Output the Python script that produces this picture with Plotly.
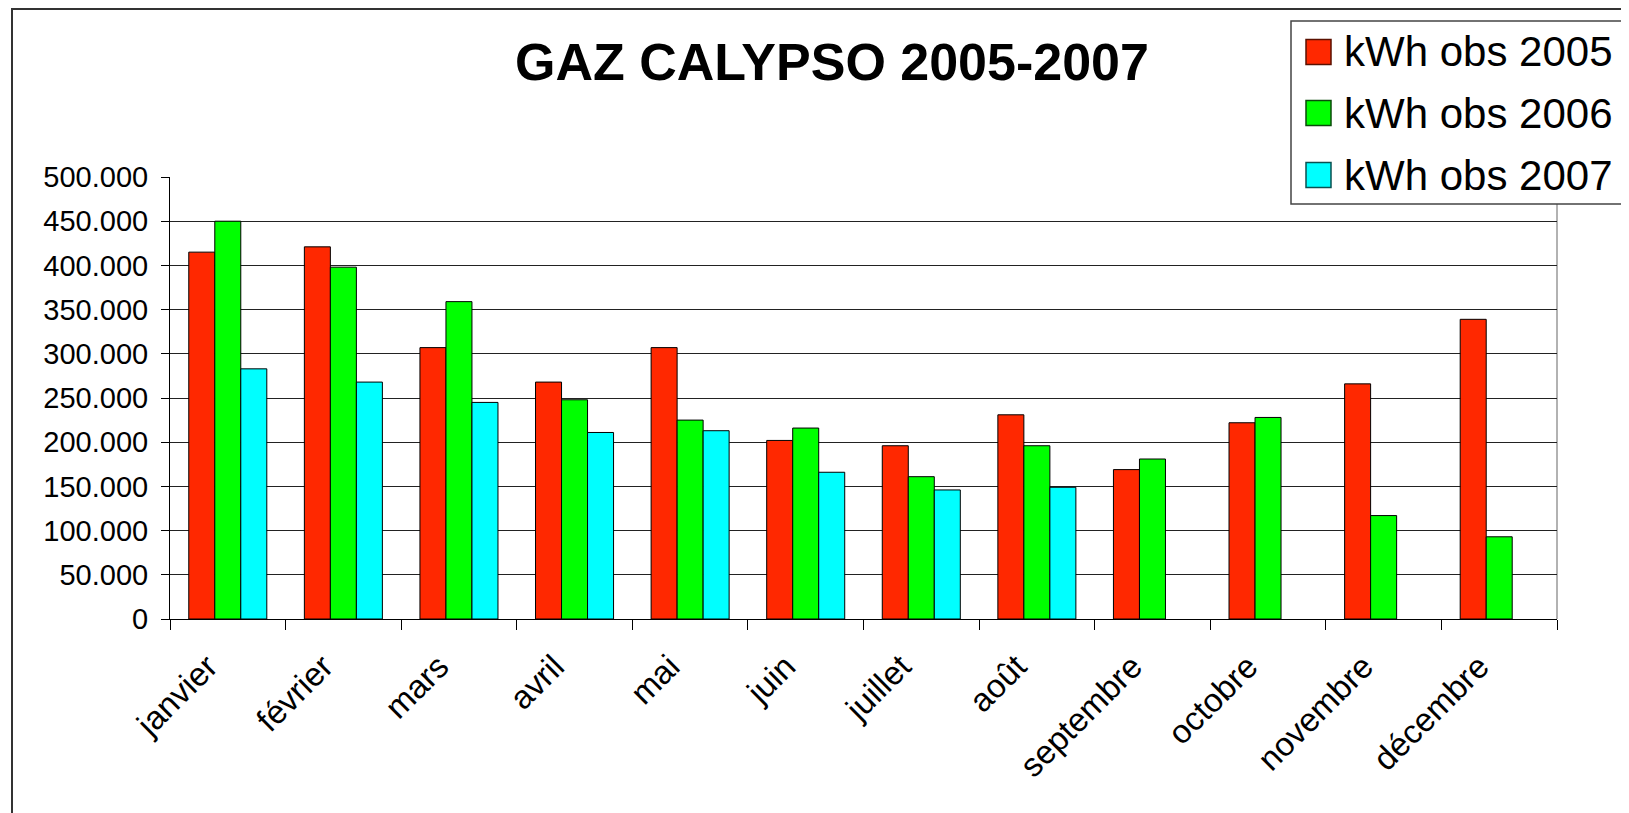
import plotly.graph_objects as go

# ---------------- data ----------------
months = ["janvier", "février", "mars", "avril", "mai", "juin",
          "juillet", "août", "septembre", "octobre", "novembre", "décembre"]
kwh_2005 = [415000, 421000, 307000, 268000, 307000, 202000,
            196000, 231000, 169000, 222000, 266000, 339000]
kwh_2006 = [450000, 398000, 359000, 248000, 225000, 216000,
            161000, 196000, 181000, 228000, 117000, 93000]
kwh_2007 = [283000, 268000, 245000, 211000, 213000, 166000,
            146000, 149000, None, None, None, None]
series_names = ["kWh obs 2005", "kWh obs 2006", "kWh obs 2007"]
y_ticks = [0, 50000, 100000, 150000, 200000, 250000, 300000, 350000, 400000, 450000, 500000]
title_text = "GAZ CALYPSO 2005-2007"

# ---------------- styling ----------------
colors = ["#FF2800", "#00FF00", "#00FFFF"]
edge_colors = ["#5a1000", "#0a4a0a", "#0a5050"]
FONT = "Liberation Sans, Arial, sans-serif"
OFF = 8                      # page body margin
W, H = 1629 - OFF, 813 - OFF
ML, MR, MT, MB = 162, 72, 169, 194
PW, PH = W - ML - MR, H - MT - MB


def px_x(page_x):
    return (page_x - OFF - ML) / PW


def px_y(page_y):
    return (H - MB - (page_y - OFF)) / PH


fig = go.Figure()
for name, vals, col in zip(series_names, [kwh_2005, kwh_2006, kwh_2007], colors):
    fig.add_trace(go.Bar(
        x=months, y=vals, name=name,
        marker=dict(color=col, line=dict(color="black", width=1)),
        showlegend=False,
    ))

shapes = []
# outer chart frame
shapes.append(dict(type="rect", xref="paper", yref="paper",
                   x0=px_x(12), x1=px_x(1660), y0=px_y(9), y1=px_y(840),
                   line=dict(color="#333333", width=2), fillcolor="rgba(0,0,0,0)",
                   layer="below"))
# right border of plot area (gray)
shapes.append(dict(type="line", xref="paper", yref="paper",
                   x0=1, x1=1, y0=0, y1=1,
                   line=dict(color="#999999", width=1.5), layer="below"))
# legend box
shapes.append(dict(type="rect", xref="paper", yref="paper",
                   x0=px_x(1291), x1=px_x(1628), y0=px_y(204), y1=px_y(21),
                   line=dict(color="#444444", width=1.5), fillcolor="white",
                   layer="above"))
annotations = []
row_y = [52, 113, 175]
for name, col, ec, ry in zip(series_names, colors, edge_colors, row_y):
    shapes.append(dict(type="rect", xref="paper", yref="paper",
                       x0=px_x(1306), x1=px_x(1331), y0=px_y(ry + 12.5), y1=px_y(ry - 12.5),
                       line=dict(color=ec, width=1.5), fillcolor=col, layer="above"))
    annotations.append(dict(text=name, xref="paper", yref="paper",
                            x=px_x(1342), y=px_y(ry), xanchor="left", yanchor="middle",
                            showarrow=False,
                            font=dict(family=FONT, size=42, color="black")))

fig.update_layout(
    width=W, height=H,
    margin=dict(l=ML, r=MR, t=MT, b=MB, pad=0),
    paper_bgcolor="white", plot_bgcolor="white",
    separators=",.",
    barmode="group", bargap=0.325, bargroupgap=0,
    font=dict(family=FONT, color="black"),
    title=dict(text="<b>" + title_text + "</b>", x=(832 - OFF) / W,
               xanchor="center", y=1 - (62 - OFF) / H, yanchor="middle",
               font=dict(family=FONT, size=52, color="black")),
    shapes=shapes,
    annotations=annotations,
    showlegend=False,
)
fig.update_xaxes(
    type="category",
    showline=True, linecolor="black", linewidth=1,
    ticks="outside", ticklen=10, tickcolor="black", tickwidth=1,
    tickson="boundaries",
    tickangle=-45,
    ticklabelshift=-20,
    ticklabelstandoff=14,
    tickfont=dict(family=FONT, size=33, color="black"),
    showgrid=False, zeroline=False,
)
fig.update_yaxes(
    range=[0, 500000],
    tickvals=y_ticks,
    tickformat=",d",
    showline=True, linecolor="black", linewidth=1,
    ticks="outside", ticklen=8, tickcolor="black", tickwidth=1,
    ticklabelstandoff=7,
    tickfont=dict(family=FONT, size=29, color="black"),
    showgrid=True, gridcolor="#222222", gridwidth=1,
    zeroline=False,
)

fig.write_html("out.html")
